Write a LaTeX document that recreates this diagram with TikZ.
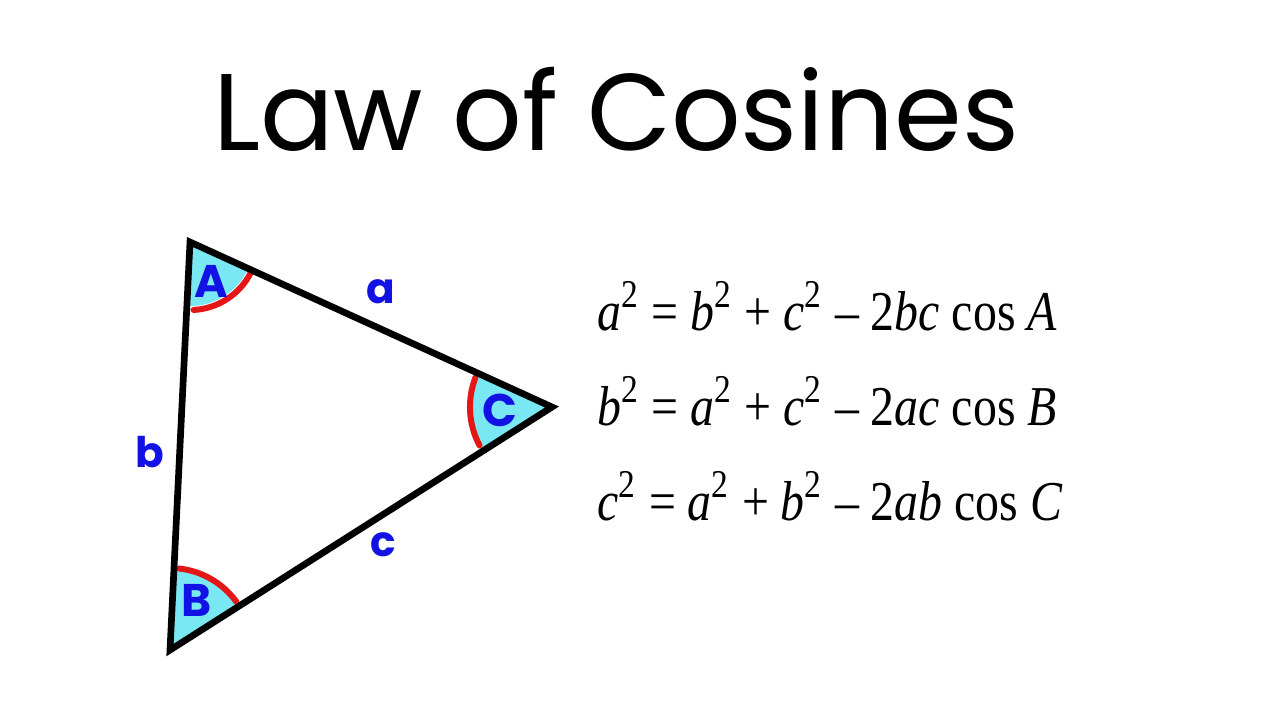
\documentclass[tikz,border=0pt]{standalone}
\usepackage{fontspec}
\setmainfont{Liberation Serif}
\newfontfamily\titlefont{Poppins}
\usepackage{xcolor}

\definecolor{wedgecyan}{RGB}{122,232,242}
\definecolor{markred}{RGB}{228,22,22}
\definecolor{labelblue}{RGB}{18,18,228}

\tikzset{
  edge/.style={line width=1.9pt, line join=miter},
  wedge/.style={fill=wedgecyan},
  redarc/.style={markred, line width=1.7pt, line cap=round},
  vlabel/.style={labelblue, font=\titlefont\bfseries\fontsize{13}{15}\selectfont},
  slabel/.style={labelblue, font=\titlefont\bfseries\fontsize{12}{14}\selectfont},
  eqn/.style={anchor=base west, inner sep=0pt, xscale=0.85, transform shape, font=\fontsize{16}{19}\selectfont},
}

\begin{document}
\begin{tikzpicture}[x=0.01cm,y=-0.01cm]
   \useasboundingbox[fill=white] (0,0) rectangle (1280,720);
   \node[anchor=base, font=\titlefont\fontsize{31}{36}\selectfont] (title) at (616,150) {Law of Cosines};
   % corners
   \coordinate (A) at (190,242);
   \coordinate (B) at (170,650);
   \coordinate (C) at (552,407);
   % angle wedges
   \fill[wedge] (A) -- ++(-92.8:0.64cm) arc[start angle=-92.8, end angle=-24.5, radius=0.64cm] -- cycle;
   \fill[wedge] (B) -- ++(32.5:0.80cm) arc[start angle=32.5, end angle=87.2, radius=0.80cm] -- cycle;
   \fill[wedge] (C) -- ++(155.5:0.80cm) arc[start angle=155.5, end angle=212.5, radius=0.80cm] -- cycle;
   \draw[redarc] (A) ++(-87:0.68cm) arc[start angle=-87, end angle=-27, radius=0.68cm];
   \draw[redarc] (B) ++(36:0.82cm) arc[start angle=36, end angle=84, radius=0.82cm];
   \draw[redarc] (C) ++(159:0.82cm) arc[start angle=159, end angle=208, radius=0.82cm];
   \draw[edge] (A) -- (C) -- (B) -- cycle;
   % letters
   \node[vlabel] (labA) at (211,281) {A};
   \node[vlabel] (labB) at (197,600) {B};
   \node[vlabel] (labC) at (500,410) {C};
   \node[slabel] (sidea) at (381,292) {a};
   \node[slabel] (sideb) at (150,452) {b};
   \node[slabel] (sidec) at (383,545) {c};
   % formulas
   \node[eqn] (eqa) at (597,330) {\textit{a}\textsuperscript{2} = \textit{b}\textsuperscript{2} + \textit{c}\textsuperscript{2} – 2\textit{bc} cos \textit{A}};
   \node[eqn] (eqb) at (597,425) {\textit{b}\textsuperscript{2} = \textit{a}\textsuperscript{2} + \textit{c}\textsuperscript{2} – 2\textit{ac} cos \textit{B}};
   \node[eqn] (eqc) at (597,520) {\textit{c}\textsuperscript{2} = \textit{a}\textsuperscript{2} + \textit{b}\textsuperscript{2} – 2\textit{ab} cos \textit{C}};
\end{tikzpicture}
\end{document}
